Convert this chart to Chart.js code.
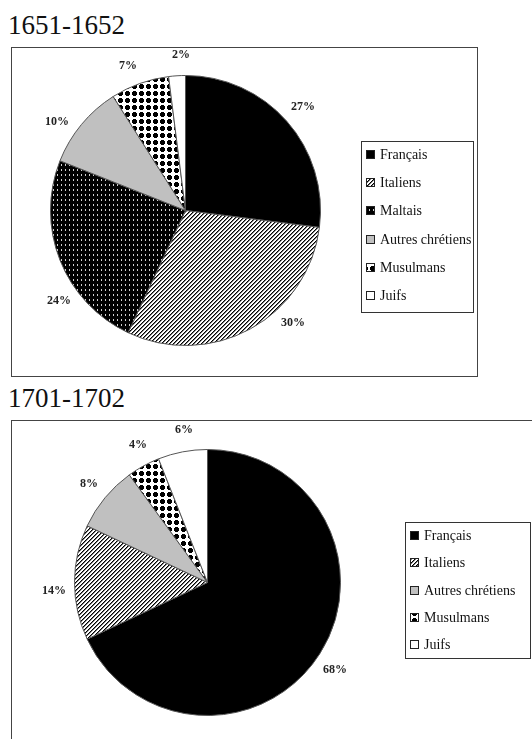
<!DOCTYPE html>
<html>
<head>
<meta charset="utf-8">
<script src="https://cdn.jsdelivr.net/npm/chart.js"></script>
<style>
  body { margin: 0; width: 532px; height: 739px; overflow: hidden; background: #fff; position: relative; }
  .title { position: absolute; left: 8px; font-family: "Liberation Serif", serif; font-size: 27px; line-height: 27px; color: #111; }
  .box { position: absolute; border: 1px solid #444; box-sizing: border-box; }
  canvas { display: block; }
</style>
</head>
<body>
<div class="title" style="top:12px">1651-1652</div>
<div class="box" style="left:11px; top:47px; width:467px; height:330px;">
  <canvas id="chart1" width="465" height="328"></canvas>
</div>
<div class="title" style="top:385px">1701-1702</div>
<div class="box" style="left:11px; top:420px; width:540px; height:340px;">
  <canvas id="chart2" width="530" height="330"></canvas>
</div>
<script>
const labels1 = ["Français", "Italiens", "Maltais", "Autres chrétiens", "Musulmans", "Juifs"];
const values1 = [27, 30, 24, 10, 7, 2];

const labels2 = ["Français", "Italiens", "Autres chrétiens", "Musulmans", "Juifs"];
const values2 = [68, 14, 8, 4, 6];

const SERIF = "'Liberation Serif', 'Times New Roman', serif";

// small tiles for the black & white fills
function makeTile(w, h, draw) {
  const c = document.createElement("canvas");
  c.width = w;
  c.height = h;
  const g = c.getContext("2d");
  draw(g);
  return c;
}

const hatch = makeTile(4, 4, (g) => {
  g.fillStyle = "#fff";
  g.fillRect(0, 0, 4, 4);
  for (let x = 0; x < 4; x++) {
    for (let y = 0; y < 4; y++) {
      const k = (x + y) % 4;
      if (k === 0) { g.fillStyle = "#000"; g.fillRect(x, y, 1, 1); }
      if (k === 1) { g.fillStyle = "#777"; g.fillRect(x, y, 1, 1); }
    }
  }
});

const dashes = makeTile(4, 5, (g) => {
  g.fillStyle = "#000";
  g.fillRect(0, 0, 4, 5);
  g.fillStyle = "#d0d0d0";
  g.fillRect(1, 1, 1, 2);
});

const dots = makeTile(7, 7, (g) => {
  g.fillStyle = "#fff";
  g.fillRect(0, 0, 7, 7);
  g.fillStyle = "#000";
  g.fillRect(2, 1, 3, 5);
  g.fillRect(1, 2, 5, 3);
});

const patCtx = document.createElement("canvas").getContext("2d");
const fills = {
  "Français": "#000",
  "Italiens": patCtx.createPattern(hatch, "repeat"),
  "Maltais": patCtx.createPattern(dashes, "repeat"),
  "Autres chrétiens": "#c0c0c0",
  "Musulmans": patCtx.createPattern(dots, "repeat"),
  "Juifs": "#fff",
};

const pctLabels = {
  id: "pctLabels",
  afterDatasetsDraw(chart, args, o) {
    const c = chart.ctx;
    const arcs = chart.getDatasetMeta(0).data;
    const vals = chart.data.datasets[0].data;
    const nudge = o.nudge || [];
    c.save();
    c.font = "bold 12px " + SERIF;
    c.fillStyle = "#222";
    c.textAlign = "center";
    c.textBaseline = "middle";
    arcs.forEach((a, i) => {
      const mid = (a.startAngle + a.endAngle) / 2 + ((nudge[i] || 0) * Math.PI) / 180;
      const r = a.outerRadius + 21;
      c.fillText(vals[i] + "%", Math.round(a.x + Math.cos(mid) * r), Math.round(a.y + Math.sin(mid) * r));
    });
    c.restore();
  },
};

const boxLegend = {
  id: "boxLegend",
  afterDraw(chart, args, o) {
    const c = chart.ctx;
    const bg = chart.data.datasets[0].backgroundColor;
    c.save();
    c.strokeStyle = "#333";
    c.lineWidth = 1;
    c.strokeRect(o.x + 0.5, o.y + 0.5, o.w, o.h);
    c.font = "14px " + SERIF;
    c.textBaseline = "middle";
    chart.data.labels.forEach((lab, i) => {
      const y = Math.round(o.y + o.first + i * o.gap);
      c.fillStyle = bg[i];
      c.fillRect(o.x + 5, y - 4, 8, 8);
      c.strokeStyle = "#222";
      c.strokeRect(o.x + 5.5, y - 3.5, 8, 8);
      c.fillStyle = "#111";
      c.fillText(lab, o.x + 19, y + 1);
    });
    c.restore();
  },
};

function makePie(id, labels, values, padding, legendBox, nudge) {
  return new Chart(document.getElementById(id), {
    type: "pie",
    data: {
      labels: labels,
      datasets: [
        {
          data: values,
          backgroundColor: labels.map((l) => fills[l]),
          borderColor: "#555",
          borderWidth: 1,
        },
      ],
    },
    options: {
      responsive: false,
      animation: false,
      layout: { padding: padding },
      plugins: {
        legend: { display: false },
        tooltip: { enabled: false },
        boxLegend: legendBox,
        pctLabels: { nudge: nudge },
      },
    },
    plugins: [pctLabels, boxLegend],
  });
}

function drawAll() {
  makePie("chart1", labels1, values1,
    { left: 38, top: 27, right: 156, bottom: 30 },
    { x: 349, y: 93, w: 112, h: 171, first: 13, gap: 28.2 },
    [0, -15, -14, -5, -2, 2]);

  makePie("chart2", labels2, values2,
    { left: 62, top: 28, right: 201, bottom: 35 },
    { x: 393, y: 101, w: 125, h: 136, first: 13, gap: 27.3 },
    [2, -3, 0, 2, 2]);
}

Promise.all([
  document.fonts.load("14px 'Liberation Serif'"),
  document.fonts.load("bold 12px 'Liberation Serif'"),
]).then(drawAll, drawAll);
</script>
</body>
</html>
